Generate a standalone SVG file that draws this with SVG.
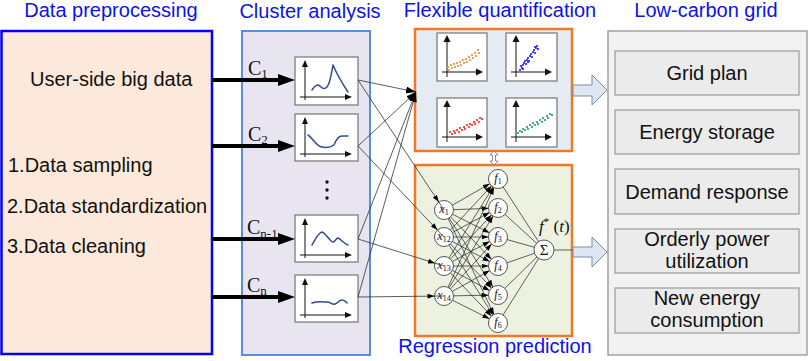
<svg xmlns="http://www.w3.org/2000/svg" width="809" height="361" viewBox="0 0 809 361">
<style>
.title{font-family:"Liberation Sans",Arial,sans-serif;font-size:20px;fill:#0a14e6;text-anchor:middle}
.txt{font-family:"Liberation Sans",Arial,sans-serif;font-size:20px;fill:#111}
.ctr{text-anchor:middle}
.ser{font-family:"Liberation Serif","Times New Roman",serif;fill:#111}
.chart{fill:#fff;stroke:#7f7f7f;stroke-width:1.3}
.curve{fill:none;stroke:#2c4e8c;stroke-width:1.5;stroke-linecap:round;stroke-linejoin:round}
.ax line{stroke:#111;stroke-width:1}
.ax polygon{fill:#111}
.thick{stroke:#000;stroke-width:4;marker-end:url(#big)}
.link{stroke:#333;stroke-width:0.8;fill:none}
.toconv{marker-end:url(#mid)}
.tox{marker-end:url(#small)}
.nn line{stroke:#222;stroke-width:0.7}
.nn .a{marker-end:url(#small)}
.node{fill:#fff;stroke:#444;stroke-width:0.9}
.gbox{fill:#ebebeb;stroke:#9a9a9a;stroke-width:1.2}
.hollow{fill:#dde6f1;stroke:#7d8ba3;stroke-width:1}
</style>
<defs>
<marker id="big" markerUnits="userSpaceOnUse" markerWidth="17" markerHeight="12" viewBox="0 0 17 12" refX="0" refY="6" orient="auto"><path d="M0,0 L17,6 L0,12 z" fill="#000"/></marker>
<marker id="mid" markerUnits="userSpaceOnUse" markerWidth="10" markerHeight="7" viewBox="0 0 10 7" refX="10" refY="3.5" orient="auto"><path d="M0,0 L10,3.5 L0,7 z" fill="#000"/></marker>
<marker id="small" markerUnits="userSpaceOnUse" markerWidth="7" markerHeight="5" viewBox="0 0 7 5" refX="16.5" refY="2.5" orient="auto"><path d="M0,0 L7,2.5 L0,5 z" fill="#000"/></marker>
<g id="axc" class="ax">
<line x1="10" y1="43" x2="10" y2="9"/><polygon points="10,3 7,10 13,10"/>
<line x1="5" y1="40" x2="51" y2="40"/><polygon points="57,40 50,37 50,43"/>
</g>
<g id="axs" class="ax">
<line x1="10" y1="44" x2="10" y2="8"/><polygon points="10,2 6.5,9 13.5,9"/>
<line x1="5" y1="39" x2="40" y2="39"/><polygon points="46,39 39,35.5 39,42.5"/>
</g>
</defs>

<rect width="809" height="361" fill="#fff"/>

<!-- titles -->
<text class="title" x="111" y="17">Data preprocessing</text>
<text class="title" x="310" y="18">Cluster analysis</text>
<text class="title" x="500" y="17">Flexible quantification</text>
<text class="title" x="706" y="17">Low-carbon grid</text>
<text class="title" x="495" y="353">Regression prediction</text>

<g id="preprocess">
<rect x="1.5" y="31" width="210.5" height="323" fill="#fde9db" stroke="#0000ff" stroke-width="2.5"/>
<text class="txt" x="30" y="86">User-side big data</text>
<text class="txt" x="8" y="172">1.Data sampling</text>
<text class="txt" x="7" y="213">2.Data standardization</text>
<text class="txt" x="7" y="253">3.Data cleaning</text>
</g>

<g id="cluster">
<rect x="242" y="31" width="128" height="324" fill="#e8e4f0" stroke="#5a8fd8" stroke-width="2"/>
<g id="c1">
<rect class="chart" x="295" y="57" width="63" height="48"/>
<use href="#axc" x="295" y="57"/>
<path class="curve" d="M312,90 C315,85 318,84 320,86 C322,88 324,90 327,87 C330,84 331,76 333,65 C336,72 342,83 348,92"/>
</g>
<g id="c2">
<rect class="chart" x="295" y="114" width="63" height="47"/>
<use href="#axc" x="295" y="114"/>
<path class="curve" d="M308,135 C313,138 316,146 322,147 C327,148 331,147 334,145 C336,140 338,136 342,136 L348,136"/>
</g>
<g id="cn1">
<rect class="chart" x="295" y="215" width="63" height="47"/>
<use href="#axc" x="295" y="215"/>
<path class="curve" d="M312,245 C316,238 319,232 322,232 C326,233 330,242 333,242 C335,242 336,238 338,238 C341,239 344,244 348,245"/>
</g>
<g id="cn">
<rect class="chart" x="295" y="275" width="63" height="47"/>
<use href="#axc" x="295" y="275"/>
<path class="curve" d="M312,303 C318,301 323,302 327,302 C331,302 332,305 335,304 C338,303 339,300 342,300 C345,300 346,302 347,303"/>
</g>
<g fill="#111">
<circle cx="327" cy="182" r="1.7"/><circle cx="327" cy="190" r="1.7"/><circle cx="327" cy="198" r="1.7"/>
</g>
<g class="ser">
<text x="248" y="75" font-size="20">C<tspan font-size="13" dy="3">1</tspan></text>
<text x="248" y="141" font-size="20">C<tspan font-size="13" dy="3">2</tspan></text>
<text x="247" y="234" font-size="20">C<tspan font-size="13" dy="4">n-1</tspan></text>
<text x="247" y="292" font-size="20">C<tspan font-size="13" dy="3">n</tspan></text>
</g>
</g>

<g id="flex">
<rect x="415" y="29" width="157" height="122" fill="#e5ebf3" stroke="#ee7a25" stroke-width="2.5"/>
<g id="s1">
<rect class="chart" x="437" y="33" width="50" height="48"/>
<use href="#axs" x="437" y="33"/>
<g fill="#f08a30" transform="translate(437,33)">
<circle cx="11" cy="34" r="1.1"/><circle cx="12" cy="37" r="1.1"/><circle cx="14" cy="32" r="1.1"/><circle cx="15" cy="35" r="1.1"/><circle cx="17" cy="31" r="1.1"/><circle cx="18" cy="34" r="1.1"/><circle cx="20" cy="30" r="1.1"/><circle cx="21" cy="33" r="1.1"/><circle cx="23" cy="29" r="1.1"/><circle cx="24" cy="32" r="1.1"/><circle cx="26" cy="27" r="1.1"/><circle cx="27" cy="30" r="1.1"/><circle cx="29" cy="26" r="1.1"/><circle cx="30" cy="29" r="1.1"/><circle cx="32" cy="24" r="1.1"/><circle cx="33" cy="27" r="1.1"/><circle cx="35" cy="22" r="1.1"/><circle cx="36" cy="25" r="1.1"/><circle cx="38" cy="20" r="1.1"/><circle cx="39" cy="23" r="1.1"/><circle cx="41" cy="17" r="1.1"/><circle cx="42" cy="20" r="1.1"/>
</g>
</g>
<g id="s2">
<rect class="chart" x="506" y="33" width="51" height="48"/>
<use href="#axs" x="506" y="33"/>
<g fill="#1a1aff" transform="translate(506,33)">
<circle cx="14" cy="37" r="1.1"/><circle cx="16" cy="35" r="1.1"/><circle cx="15" cy="33" r="1.1"/><circle cx="17" cy="32" r="1.1"/><circle cx="18" cy="30" r="1.1"/><circle cx="19" cy="28" r="1.1"/><circle cx="20" cy="31" r="1.1"/><circle cx="21" cy="27" r="1.1"/><circle cx="22" cy="25" r="1.1"/><circle cx="23" cy="28" r="1.1"/><circle cx="24" cy="23" r="1.1"/><circle cx="25" cy="21" r="1.1"/><circle cx="26" cy="24" r="1.1"/><circle cx="27" cy="19" r="1.1"/><circle cx="28" cy="17" r="1.1"/><circle cx="29" cy="20" r="1.1"/><circle cx="30" cy="15" r="1.1"/><circle cx="31" cy="13" r="1.1"/><circle cx="29" cy="14" r="1.1"/><circle cx="32" cy="16" r="1.1"/><circle cx="17" cy="36" r="1.1"/><circle cx="22" cy="29" r="1.1"/>
</g>
</g>
<g id="s3">
<rect class="chart" x="437" y="98" width="50" height="49"/>
<use href="#axs" x="437" y="98"/>
<g fill="#ff2020" transform="translate(437,98)">
<circle cx="13" cy="34" r="1.1"/><circle cx="15" cy="36" r="1.1"/><circle cx="17" cy="33" r="1.1"/><circle cx="18" cy="35" r="1.1"/><circle cx="20" cy="32" r="1.1"/><circle cx="22" cy="34" r="1.1"/><circle cx="23" cy="30" r="1.1"/><circle cx="25" cy="32" r="1.1"/><circle cx="27" cy="29" r="1.1"/><circle cx="28" cy="31" r="1.1"/><circle cx="30" cy="27" r="1.1"/><circle cx="32" cy="29" r="1.1"/><circle cx="33" cy="26" r="1.1"/><circle cx="35" cy="27" r="1.1"/><circle cx="37" cy="24" r="1.1"/><circle cx="38" cy="26" r="1.1"/><circle cx="40" cy="22" r="1.1"/><circle cx="42" cy="24" r="1.1"/><circle cx="43" cy="20" r="1.1"/><circle cx="45" cy="21" r="1.1"/>
</g>
</g>
<g id="s4">
<rect class="chart" x="506" y="98" width="51" height="49"/>
<use href="#axs" x="506" y="98"/>
<g fill="#22a05a" transform="translate(506,98)">
<circle cx="12" cy="35" r="1.1"/><circle cx="14" cy="33" r="1.1"/><circle cx="16" cy="34" r="1.1"/><circle cx="17" cy="31" r="1.1"/><circle cx="19" cy="32" r="1.1"/><circle cx="21" cy="29" r="1.1"/><circle cx="22" cy="31" r="1.1"/><circle cx="24" cy="27" r="1.1"/><circle cx="26" cy="29" r="1.1"/><circle cx="27" cy="25" r="1.1"/><circle cx="29" cy="27" r="1.1"/><circle cx="31" cy="24" r="1.1"/><circle cx="32" cy="26" r="1.1"/><circle cx="34" cy="22" r="1.1"/><circle cx="36" cy="24" r="1.1"/><circle cx="37" cy="20" r="1.1"/><circle cx="39" cy="22" r="1.1"/><circle cx="41" cy="18" r="1.1"/><circle cx="42" cy="20" r="1.1"/><circle cx="44" cy="16" r="1.1"/><circle cx="46" cy="17" r="1.1"/>
</g>
</g>
</g>

<g id="regression">
<rect x="415" y="165" width="157" height="171" fill="#ecf1e0" stroke="#ee7a25" stroke-width="2.5"/>
<g class="nn">
<line class="a" x1="444" y1="210" x2="498" y2="179"/>
<line class="a" x1="444" y1="210" x2="498" y2="208"/>
<line class="a" x1="444" y1="210" x2="498" y2="237"/>
<line class="a" x1="444" y1="210" x2="498" y2="266"/>
<line class="a" x1="444" y1="210" x2="498" y2="295"/>
<line class="a" x1="444" y1="210" x2="498" y2="323"/>
<line class="a" x1="444" y1="237" x2="498" y2="179"/>
<line class="a" x1="444" y1="237" x2="498" y2="208"/>
<line class="a" x1="444" y1="237" x2="498" y2="237"/>
<line class="a" x1="444" y1="237" x2="498" y2="266"/>
<line class="a" x1="444" y1="237" x2="498" y2="295"/>
<line class="a" x1="444" y1="237" x2="498" y2="323"/>
<line class="a" x1="444" y1="266" x2="498" y2="179"/>
<line class="a" x1="444" y1="266" x2="498" y2="208"/>
<line class="a" x1="444" y1="266" x2="498" y2="237"/>
<line class="a" x1="444" y1="266" x2="498" y2="266"/>
<line class="a" x1="444" y1="266" x2="498" y2="295"/>
<line class="a" x1="444" y1="266" x2="498" y2="323"/>
<line class="a" x1="444" y1="296" x2="498" y2="179"/>
<line class="a" x1="444" y1="296" x2="498" y2="208"/>
<line class="a" x1="444" y1="296" x2="498" y2="237"/>
<line class="a" x1="444" y1="296" x2="498" y2="266"/>
<line class="a" x1="444" y1="296" x2="498" y2="295"/>
<line class="a" x1="444" y1="296" x2="498" y2="323"/>
<line x1="498" y1="179" x2="544" y2="250"/>
<line x1="498" y1="208" x2="544" y2="250"/>
<line x1="498" y1="237" x2="544" y2="250"/>
<line x1="498" y1="266" x2="544" y2="250"/>
<line x1="498" y1="295" x2="544" y2="250"/>
<line x1="498" y1="323" x2="544" y2="250"/>
<line x1="544" y1="250" x2="572" y2="250"/>
</g>
<g id="inputs">
<circle class="node" cx="444" cy="210" r="9.5"/><circle class="node" cx="444" cy="237" r="9.5"/><circle class="node" cx="444" cy="266" r="9.5"/><circle class="node" cx="444" cy="296" r="9.5"/>
</g>
<g id="hidden">
<circle class="node" cx="498" cy="179" r="9.5"/><circle class="node" cx="498" cy="208" r="9.5"/><circle class="node" cx="498" cy="237" r="9.5"/><circle class="node" cx="498" cy="266" r="9.5"/><circle class="node" cx="498" cy="295" r="9.5"/><circle class="node" cx="498" cy="323" r="9.5"/>
</g>
<circle id="sum" class="node" cx="544" cy="250" r="10"/>
<g class="ser" font-size="12" text-anchor="middle">
<text x="444" y="213"><tspan font-style="italic">x</tspan><tspan font-size="8" dy="2">1</tspan></text>
<text x="444" y="240"><tspan font-style="italic">x</tspan><tspan font-size="8" dy="2">12</tspan></text>
<text x="444" y="269"><tspan font-style="italic">x</tspan><tspan font-size="8" dy="2">13</tspan></text>
<text x="444" y="299"><tspan font-style="italic">x</tspan><tspan font-size="8" dy="2">14</tspan></text>
<text x="498" y="182"><tspan font-style="italic">f</tspan><tspan font-size="8" dy="2">1</tspan></text>
<text x="498" y="211"><tspan font-style="italic">f</tspan><tspan font-size="8" dy="2">2</tspan></text>
<text x="498" y="240"><tspan font-style="italic">f</tspan><tspan font-size="8" dy="2">3</tspan></text>
<text x="498" y="269"><tspan font-style="italic">f</tspan><tspan font-size="8" dy="2">4</tspan></text>
<text x="498" y="298"><tspan font-style="italic">f</tspan><tspan font-size="8" dy="2">5</tspan></text>
<text x="498" y="326"><tspan font-style="italic">f</tspan><tspan font-size="8" dy="2">6</tspan></text>
<text x="544" y="255" font-size="15">Σ</text>
</g>
<text class="ser" x="539" y="232" font-size="17"><tspan font-style="italic">f</tspan><tspan font-size="11" dy="-7">*</tspan><tspan dy="7"> (</tspan><tspan font-style="italic">t</tspan>)</text>
</g>

<g id="grid">
<rect x="608" y="31" width="199" height="324" fill="#f2f2f2" stroke="#8c8c8c" stroke-width="1.2"/>
<g id="g1"><rect class="gbox" x="615" y="51" width="184" height="44"/><text class="txt ctr" x="707" y="80">Grid plan</text></g>
<g id="g2"><rect class="gbox" x="615" y="110" width="184" height="44"/><text class="txt ctr" x="707" y="139">Energy storage</text></g>
<g id="g3"><rect class="gbox" x="615" y="169" width="184" height="45"/><text class="txt ctr" x="707" y="199">Demand response</text></g>
<g id="g4"><rect class="gbox" x="615" y="229" width="184" height="44"/><text class="txt ctr" x="707" y="246">Orderly power</text><text class="txt ctr" x="707" y="268">utilization</text></g>
<g id="g5"><rect class="gbox" x="615" y="288" width="184" height="45"/><text class="txt ctr" x="707" y="305">New energy</text><text class="txt ctr" x="707" y="327">consumption</text></g>
</g>

<g id="connectors">
<line class="thick" x1="212" y1="80" x2="278" y2="80"/>
<line class="thick" x1="212" y1="146" x2="278" y2="146"/>
<line class="thick" x1="212" y1="239" x2="278" y2="239"/>
<line class="thick" x1="212" y1="297" x2="278" y2="297"/>
<line class="link toconv" x1="358" y1="80" x2="416" y2="92"/>
<line class="link toconv" x1="358" y1="146" x2="416" y2="92"/>
<line class="link toconv" x1="358" y1="239" x2="416" y2="92"/>
<line class="link toconv" x1="358" y1="297" x2="416" y2="92"/>
<line class="link tox" x1="358" y1="80" x2="444" y2="210"/>
<line class="link tox" x1="358" y1="146" x2="444" y2="237"/>
<line class="link tox" x1="358" y1="239" x2="444" y2="266"/>
<line class="link tox" x1="358" y1="297" x2="444" y2="296"/>
<polygon class="hollow" points="573,85 592,85 592,75 607,90 592,105 592,96 573,96"/>
<polygon class="hollow" points="573,247 592,247 592,237 607,252 592,267 592,257 573,257"/>
<polygon fill="#fff" stroke="#777" stroke-width="0.8" points="494,151 498,155 495.5,155 495.5,161 498,161 494,165 490,161 492.5,161 492.5,155 490,155"/>
</g>
</svg>
